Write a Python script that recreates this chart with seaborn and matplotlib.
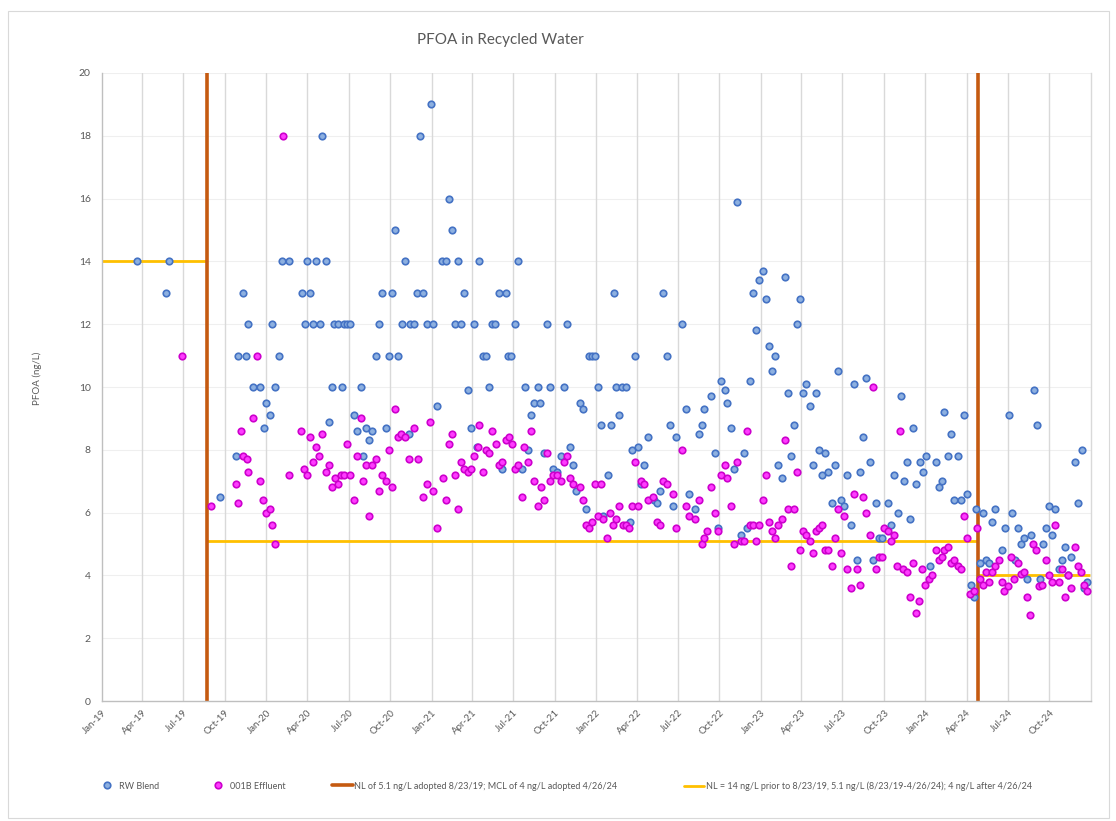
import matplotlib
matplotlib.use("Agg")
import matplotlib.pyplot as plt
from matplotlib.lines import Line2D
from matplotlib.patches import Rectangle
import pandas as pd
import seaborn as sns

# ---------------- data ----------------
TITLE = "PFOA in Recycled Water"
Y_LABEL = "PFOA (ng/L)"
SERIES_NAMES = ["RW Blend", "001B Effluent"]
RULE_LABEL = "NL of 5.1 ng/L adopted 8/23/19; MCL of 4 ng/L adopted 4/26/24"
NL_LABEL = "NL = 14 ng/L prior to 8/23/19, 5.1 ng/L (8/23/19-4/26/24); 4 ng/L after 4/26/24"
RULE_DATES = ["2019-08-23", "2024-04-26"]
NL_START = ["2019-01-01", "2019-08-23", "2024-04-26"]
NL_END = ["2019-08-23", "2024-04-26", "2024-12-31"]
NL_LEVELS = [14, 5.1, 4]
Y_TICKS = [0, 2, 4, 6, 8, 10, 12, 14, 16, 18, 20]

rw_dates = [
    "2019-03-20", "2019-05-23", "2019-05-31", "2019-09-19", "2019-10-25", "2019-10-29", "2019-11-11", "2019-11-17", "2019-11-22", "2019-12-03", "2019-12-18", "2019-12-27", "2019-12-31",
    "2020-01-09", "2020-01-14", "2020-01-21", "2020-01-29", "2020-02-05", "2020-02-20", "2020-03-19", "2020-03-26", "2020-03-31", "2020-04-07", "2020-04-13", "2020-04-20", "2020-04-28",
    "2020-05-04", "2020-05-11", "2020-05-19", "2020-05-26", "2020-05-30", "2020-06-07", "2020-06-16", "2020-06-20", "2020-06-27", "2020-07-05", "2020-07-12", "2020-07-20",
    "2020-07-28", "2020-08-01", "2020-08-09", "2020-08-16", "2020-08-22", "2020-08-30", "2020-09-07", "2020-09-14", "2020-09-21", "2020-09-29", "2020-10-05", "2020-10-12",
    "2020-10-19", "2020-10-27", "2020-11-03", "2020-11-11", "2020-11-15", "2020-11-22", "2020-11-30", "2020-12-07", "2020-12-14", "2020-12-21", "2020-12-30",
    "2021-01-04", "2021-01-12", "2021-01-25", "2021-02-02", "2021-02-08", "2021-02-16", "2021-02-22", "2021-03-01", "2021-03-08", "2021-03-15", "2021-03-22", "2021-03-29", "2021-04-05",
    "2021-04-12", "2021-04-17", "2021-04-24", "2021-05-01", "2021-05-09", "2021-05-14", "2021-05-21", "2021-05-30", "2021-06-07", "2021-06-14", "2021-06-20", "2021-06-27",
    "2021-07-05", "2021-07-12", "2021-07-20", "2021-07-27", "2021-08-02", "2021-08-09", "2021-08-17", "2021-08-24", "2021-08-30", "2021-09-07", "2021-09-14", "2021-09-21", "2021-09-28",
    "2021-10-07", "2021-10-14", "2021-10-21", "2021-10-28", "2021-11-04", "2021-11-11", "2021-11-18", "2021-11-25", "2021-12-02", "2021-12-09", "2021-12-16", "2021-12-23", "2021-12-30",
    "2022-01-04", "2022-01-11", "2022-01-17", "2022-01-27", "2022-02-02", "2022-02-09", "2022-02-15", "2022-02-21", "2022-02-28", "2022-03-07", "2022-03-16", "2022-03-21", "2022-03-28",
    "2022-04-04", "2022-04-11", "2022-04-18", "2022-04-25", "2022-05-09", "2022-05-16", "2022-05-22", "2022-05-29", "2022-06-06", "2022-06-13", "2022-06-20", "2022-06-27",
    "2022-07-11", "2022-07-18", "2022-07-25", "2022-08-09", "2022-08-16", "2022-08-23", "2022-08-29", "2022-09-13", "2022-09-21", "2022-09-28", "2022-10-05", "2022-10-13",
    "2022-10-19", "2022-10-26", "2022-11-02", "2022-11-10", "2022-11-17", "2022-11-24", "2022-12-01", "2022-12-08", "2022-12-15", "2022-12-22", "2022-12-29",
    "2023-01-06", "2023-01-12", "2023-01-19", "2023-01-26", "2023-02-02", "2023-02-09", "2023-02-16", "2023-02-23", "2023-03-02", "2023-03-09", "2023-03-15", "2023-03-22", "2023-03-29",
    "2023-04-05", "2023-04-12", "2023-04-19", "2023-04-26", "2023-05-03", "2023-05-10", "2023-05-16", "2023-05-23", "2023-05-30", "2023-06-07", "2023-06-14", "2023-06-21", "2023-06-28",
    "2023-07-05", "2023-07-12", "2023-07-19", "2023-07-26", "2023-08-02", "2023-08-09", "2023-08-16", "2023-08-23", "2023-08-30", "2023-09-06", "2023-09-13", "2023-09-20", "2023-09-27",
    "2023-10-10", "2023-10-16", "2023-10-24", "2023-10-31", "2023-11-07", "2023-11-14", "2023-11-21", "2023-11-28", "2023-12-05", "2023-12-12", "2023-12-19", "2023-12-26",
    "2024-01-02", "2024-01-11", "2024-01-24", "2024-01-30", "2024-02-06", "2024-02-12", "2024-02-19", "2024-02-27", "2024-03-05", "2024-03-12", "2024-03-19", "2024-03-26", "2024-04-02",
    "2024-04-10", "2024-04-17", "2024-04-23", "2024-04-30", "2024-05-07", "2024-05-14", "2024-05-21", "2024-05-28", "2024-06-04", "2024-06-18", "2024-06-25", "2024-07-03", "2024-07-10",
    "2024-07-17", "2024-07-24", "2024-07-31", "2024-08-07", "2024-08-14", "2024-08-21", "2024-08-28", "2024-09-04", "2024-09-11", "2024-09-18", "2024-09-25",
    "2024-10-01", "2024-10-08", "2024-10-15", "2024-10-22", "2024-10-29", "2024-11-06", "2024-11-13", "2024-11-19", "2024-11-27", "2024-12-04", "2024-12-12", "2024-12-17", "2024-12-24",
]
rw_values = [
    14, 13, 14, 6.5, 7.8, 11, 13, 11, 12, 10, 10, 8.7, 9.5,
    9.1, 12, 10, 11, 14, 14, 13, 12, 14, 13, 12, 14, 12,
    18, 14, 8.9, 10, 12, 12, 10, 12, 12, 12, 9.1, 8.6,
    10, 7.8, 8.7, 8.3, 8.6, 11, 12, 13, 8.7, 11, 13, 15,
    11, 12, 14, 8.5, 12, 12, 13, 18, 13, 12, 19,
    12, 9.4, 14, 14, 16, 15, 12, 14, 12, 13, 9.9, 8.7, 12,
    8.1, 14, 11, 11, 10, 12, 12, 13, 7.4, 13, 11, 11,
    12, 14, 7.4, 10, 8.0, 9.1, 9.5, 10, 9.5, 7.9, 12, 10, 7.4,
    7.3, 7.8, 10, 12, 8.1, 7.5, 6.7, 9.5, 9.3, 6.1, 11, 11, 11,
    10, 8.8, 5.9, 7.2, 8.8, 13, 10, 9.1, 10, 10, 5.7, 8.0, 11,
    8.1, 6.9, 7.5, 8.4, 6.4, 6.3, 6.7, 13, 11, 8.8, 6.2, 8.4,
    12, 9.3, 6.6, 6.1, 8.5, 8.8, 9.3, 9.7, 7.9, 5.5, 10.2, 9.9,
    9.5, 8.7, 7.4, 15.9, 5.3, 7.9, 5.5, 10.2, 13.0, 11.8, 13.4,
    13.7, 12.8, 11.3, 10.5, 11.0, 7.5, 7.1, 13.5, 9.8, 7.8, 8.8, 12.0, 12.8,
    9.8, 10.1, 9.4, 7.5, 9.8, 8.0, 7.2, 7.9, 7.3, 6.3, 7.5, 10.5, 6.4,
    6.2, 7.2, 5.6, 10.1, 4.5, 7.3, 8.4, 10.3, 7.6, 4.5, 6.3, 5.2, 5.2,
    6.3, 5.6, 7.2, 6.0, 9.7, 7.0, 7.6, 5.8, 8.7, 6.9, 7.6, 7.3,
    7.8, 4.3, 7.6, 6.8, 7.0, 9.2, 7.8, 8.5, 6.4, 7.8, 6.4, 9.1, 6.6,
    3.7, 3.3, 6.1, 4.4, 6.0, 4.5, 4.4, 5.7, 6.1, 4.8, 5.5, 9.1, 6.0,
    4.5, 5.5, 5.0, 5.2, 3.9, 5.3, 9.9, 8.8, 3.9, 5.0, 5.5,
    6.2, 5.3, 6.1, 4.2, 4.5, 4.9, 4.0, 4.6, 7.6, 6.3, 8.0, 3.6, 3.8,
]

eff_dates = [
    "2019-06-27", "2019-08-30", "2019-10-25", "2019-10-29", "2019-11-05", "2019-11-11", "2019-11-18", "2019-11-22", "2019-12-03", "2019-12-11", "2019-12-18", "2019-12-25", "2019-12-31",
    "2020-01-09", "2020-01-14", "2020-01-21", "2020-02-06", "2020-02-20", "2020-03-18", "2020-03-25", "2020-04-01", "2020-04-07", "2020-04-14", "2020-04-20", "2020-04-27",
    "2020-05-04", "2020-05-11", "2020-05-18", "2020-05-25", "2020-06-01", "2020-06-08", "2020-06-15", "2020-06-22", "2020-06-28", "2020-07-05", "2020-07-12", "2020-07-19",
    "2020-07-28", "2020-08-01", "2020-08-09", "2020-08-16", "2020-08-23", "2020-08-30", "2020-09-07", "2020-09-14", "2020-09-21", "2020-09-29", "2020-10-05", "2020-10-12",
    "2020-10-19", "2020-10-26", "2020-11-03", "2020-11-11", "2020-11-24", "2020-12-01", "2020-12-14", "2020-12-22", "2020-12-28",
    "2021-01-05", "2021-01-12", "2021-01-26", "2021-02-02", "2021-02-09", "2021-02-16", "2021-02-22", "2021-03-01", "2021-03-08", "2021-03-15", "2021-03-22", "2021-03-29", "2021-04-05",
    "2021-04-15", "2021-04-17", "2021-04-24", "2021-05-01", "2021-05-09", "2021-05-16", "2021-05-23", "2021-05-30", "2021-06-07", "2021-06-14", "2021-06-21", "2021-06-29",
    "2021-07-05", "2021-07-12", "2021-07-20", "2021-07-26", "2021-08-03", "2021-08-09", "2021-08-17", "2021-08-24", "2021-08-31", "2021-09-07", "2021-09-14", "2021-09-21", "2021-09-28",
    "2021-10-07", "2021-10-14", "2021-10-21", "2021-10-28", "2021-11-04", "2021-11-11", "2021-11-25", "2021-12-02", "2021-12-09", "2021-12-16", "2021-12-23", "2021-12-30",
    "2022-01-04", "2022-01-11", "2022-01-17", "2022-01-24", "2022-01-31", "2022-02-07", "2022-02-15", "2022-02-21", "2022-03-01", "2022-03-07", "2022-03-15", "2022-03-21", "2022-03-27",
    "2022-04-04", "2022-04-11", "2022-04-18", "2022-04-25", "2022-05-08", "2022-05-16", "2022-05-22", "2022-05-30", "2022-06-06", "2022-06-20", "2022-06-27",
    "2022-07-11", "2022-07-18", "2022-07-25", "2022-08-09", "2022-08-16", "2022-08-23", "2022-08-29", "2022-09-03", "2022-09-13", "2022-09-21", "2022-09-28", "2022-10-05",
    "2022-10-13", "2022-10-19", "2022-10-26", "2022-11-02", "2022-11-10", "2022-11-17", "2022-11-24", "2022-12-01", "2022-12-08", "2022-12-15", "2022-12-22", "2022-12-29",
    "2023-01-06", "2023-01-12", "2023-01-19", "2023-01-26", "2023-02-02", "2023-02-09", "2023-02-16", "2023-02-23", "2023-03-02", "2023-03-09", "2023-03-15", "2023-03-22", "2023-03-29",
    "2023-04-05", "2023-04-12", "2023-04-19", "2023-04-26", "2023-05-03", "2023-05-10", "2023-05-16", "2023-05-23", "2023-05-30", "2023-06-07", "2023-06-14", "2023-06-21", "2023-06-28",
    "2023-07-05", "2023-07-12", "2023-07-19", "2023-07-26", "2023-08-02", "2023-08-09", "2023-08-16", "2023-08-23", "2023-08-30", "2023-09-06", "2023-09-13", "2023-09-20", "2023-09-27",
    "2023-10-02", "2023-10-09", "2023-10-16", "2023-10-23", "2023-10-30", "2023-11-06", "2023-11-13", "2023-11-20", "2023-11-27", "2023-12-04", "2023-12-11", "2023-12-18", "2023-12-25",
    "2024-01-01", "2024-01-09", "2024-01-16", "2024-01-24", "2024-01-30", "2024-02-06", "2024-02-12", "2024-02-19", "2024-02-27", "2024-03-05", "2024-03-12", "2024-03-19", "2024-03-26", "2024-04-02",
    "2024-04-09", "2024-04-17", "2024-04-24", "2024-04-30", "2024-05-07", "2024-05-14", "2024-05-21", "2024-05-28", "2024-06-04", "2024-06-11", "2024-06-18", "2024-06-24", "2024-07-01",
    "2024-07-09", "2024-07-16", "2024-07-23", "2024-07-30", "2024-08-06", "2024-08-13", "2024-08-20", "2024-08-27", "2024-09-03", "2024-09-09", "2024-09-16", "2024-09-24",
    "2024-10-01", "2024-10-08", "2024-10-15", "2024-10-22", "2024-10-29", "2024-11-06", "2024-11-13", "2024-11-19", "2024-11-27", "2024-12-04", "2024-12-11", "2024-12-18", "2024-12-24",
]
eff_values = [
    11, 6.2, 6.9, 6.3, 8.6, 7.8, 7.7, 7.3, 9.0, 11, 7.0, 6.4, 6.0,
    6.1, 5.6, 5.0, 18, 7.2, 8.6, 7.4, 7.2, 8.4, 7.6, 8.1, 7.8,
    8.5, 7.3, 7.5, 6.8, 7.1, 6.9, 7.2, 7.2, 8.2, 7.2, 6.4, 7.8,
    9.0, 7.0, 7.5, 5.9, 7.5, 7.7, 6.7, 7.2, 7.0, 8.0, 6.8, 9.3,
    8.4, 8.5, 8.4, 7.7, 8.7, 7.7, 6.5, 6.9, 8.9,
    6.7, 5.5, 7.1, 6.4, 8.2, 8.5, 7.2, 6.1, 7.6, 7.4, 7.3, 7.4, 7.8,
    8.1, 8.8, 7.3, 8.0, 7.9, 8.6, 8.2, 7.5, 7.6, 8.3, 8.4, 8.2,
    7.4, 7.5, 6.5, 8.1, 7.6, 8.6, 7.0, 6.2, 6.8, 6.4, 7.9, 7.0, 7.2,
    7.2, 7.0, 7.6, 7.8, 7.1, 6.9, 6.8, 6.4, 5.6, 5.5, 5.7, 6.9,
    5.9, 6.9, 5.8, 5.2, 6.0, 5.6, 5.8, 6.2, 5.6, 5.6, 5.5, 6.2, 7.6,
    6.2, 7.0, 6.9, 6.4, 6.5, 5.7, 5.6, 7.0, 6.9, 6.6, 5.5,
    8.0, 6.2, 5.9, 5.8, 6.4, 5.0, 5.2, 5.4, 6.8, 6.0, 5.4, 7.2,
    7.5, 7.1, 6.2, 5.0, 7.6, 5.1, 5.1, 8.6, 5.6, 5.6, 5.1, 5.6,
    6.4, 7.2, 5.7, 5.4, 5.2, 5.6, 5.8, 8.3, 6.1, 4.3, 6.1, 7.3, 4.8,
    5.4, 5.3, 5.1, 4.7, 5.4, 5.5, 5.6, 4.8, 4.8, 4.3, 5.2, 6.1, 4.7,
    5.9, 4.2, 3.6, 6.6, 4.2, 3.7, 6.5, 6.0, 5.3, 10.0, 4.2, 4.6, 4.6,
    5.5, 5.4, 5.1, 5.3, 4.3, 8.6, 4.2, 4.1, 3.3, 4.4, 2.8, 3.2, 4.2,
    3.7, 3.9, 4.0, 4.8, 4.5, 4.6, 4.8, 4.9, 4.4, 4.5, 4.3, 4.2, 5.9, 5.2,
    3.4, 3.5, 5.5, 3.9, 3.7, 4.1, 3.8, 4.1, 4.3, 4.5, 3.8, 3.5, 3.65,
    4.6, 3.9, 4.4, 4.05, 4.1, 3.3, 2.75, 5.0, 4.8, 3.65, 3.7, 4.5,
    4.0, 3.8, 5.6, 3.8, 4.2, 3.3, 4.0, 3.6, 4.9, 4.3, 4.1, 3.7, 3.5,
]
assert len(rw_dates) == len(rw_values), (len(rw_dates), len(rw_values))
assert len(eff_dates) == len(eff_values), (len(eff_dates), len(eff_values))

# ---------------- style ----------------
BLUE_FACE, BLUE_EDGE = "#8DB0E0", "#4472C4"
MAG_FACE, MAG_EDGE = "#FF3CFF", "#CC00CC"
ORANGE = "#C55A11"
YELLOW = "#FFC000"
TEXT = "#595959"
GRID_V = "#D9D9D9"
GRID_H = "#EFEFEF"

sns.set_theme(style="white")
plt.rcParams["font.family"] = ["Lato", "DejaVu Sans"]

W, H = 1116, 821
fig = plt.figure(figsize=(W / 100, H / 100), dpi=100)
fig.patch.set_facecolor("white")
fig.patches.append(Rectangle((8 / W, 3 / H), (1109 - 8) / W, (810 - 3) / H,
                             transform=fig.transFigure, fill=False,
                             edgecolor="#D9D9D9", linewidth=0.8))

ax = fig.add_axes([101.8 / W, 1 - 701 / H, (1090.6 - 101.8) / W, (701 - 73) / H])
ax.set_facecolor("white")

rw = pd.DataFrame({"date": pd.to_datetime(rw_dates), "value": rw_values})
eff = pd.DataFrame({"date": pd.to_datetime(eff_dates), "value": eff_values})

# limit lines
for s, e, lvl in zip(NL_START, NL_END, NL_LEVELS):
    ax.hlines(lvl, pd.Timestamp(s), pd.Timestamp(e), color=YELLOW, linewidth=2.0, zorder=2)
for d in RULE_DATES:
    ax.axvline(pd.Timestamp(d), color=ORANGE, linewidth=2.6, zorder=2.5)

sns.scatterplot(data=rw, x="date", y="value", ax=ax, s=22, color=BLUE_FACE,
                edgecolor=BLUE_EDGE, linewidth=1.2, zorder=4, legend=False)
sns.scatterplot(data=eff, x="date", y="value", ax=ax, s=22, color=MAG_FACE,
                edgecolor=MAG_EDGE, linewidth=1.2, zorder=5, legend=False)

xt = pd.date_range("2019-01-01", "2024-10-01", freq="QS")
ax.set_xlim(pd.Timestamp("2019-01-01"), pd.Timestamp("2025-01-01"))
ax.set_ylim(0, 20)
ax.set_xticks(xt)
ax.set_xticklabels([d.strftime("%b-%y") for d in xt], rotation=45, ha="right",
                   va="top", rotation_mode="anchor", fontsize=7, color=TEXT)
ax.set_yticks(Y_TICKS)
ax.set_yticklabels([str(v) for v in Y_TICKS], fontsize=7.5, color=TEXT)
ax.tick_params(axis="both", length=0)
ax.tick_params(axis="y", pad=8)
ax.tick_params(axis="x", pad=5)
ax.set_xlabel("")
ax.set_ylabel("")

ax.grid(False)
for d in xt[1:]:
    ax.axvline(d, color=GRID_V, linewidth=1.0, zorder=0.5)
for v in Y_TICKS[1:]:
    ax.axhline(v, color=GRID_H, linewidth=0.8, zorder=0.4)

ax.spines["top"].set_visible(False)
ax.spines["right"].set_visible(True)
ax.spines["right"].set_color(GRID_V)
ax.spines["left"].set_color("#BFBFBF")
ax.spines["bottom"].set_color("#BFBFBF")
for side in ["left", "bottom", "right"]:
    ax.spines[side].set_linewidth(1.0)

fig.text(500 / W, 1 - 40 / H, TITLE, ha="center", va="center", fontsize=11, color=TEXT)
fig.text(37 / W, 1 - 378 / H, Y_LABEL, ha="center", va="center", rotation=90,
         fontsize=7, color=TEXT)

# legend: one entry each, placed like the reference
LEG_FS = 6.5
LEG_Y = 1 - 786 / H
entries = [
    (Line2D([], [], linestyle="none", marker="o", markersize=4.7, markerfacecolor=BLUE_FACE,
            markeredgecolor=BLUE_EDGE, markeredgewidth=1.2), SERIES_NAMES[0], 102.5, 1.0, 0.85),
    (Line2D([], [], linestyle="none", marker="o", markersize=4.7, markerfacecolor=MAG_FACE,
            markeredgecolor=MAG_EDGE, markeredgewidth=1.2), SERIES_NAMES[1], 213.5, 1.0, 0.85),
    (Line2D([], [], color=ORANGE, linewidth=2.6), RULE_LABEL, 332, 2.3, 0.15),
    (Line2D([], [], color=YELLOW, linewidth=2.0), NL_LABEL, 684, 2.2, 0.2),
]
for h, lab, x0, hl, hp in entries:
    lg = fig.legend([h], [lab], loc="center left", bbox_to_anchor=(x0 / W, LEG_Y),
                    frameon=False, fontsize=LEG_FS, handlelength=hl, handletextpad=hp,
                    borderpad=0, borderaxespad=0)
    for t in lg.get_texts():
        t.set_color(TEXT)

fig.savefig("out.png", dpi=100, facecolor="white")
